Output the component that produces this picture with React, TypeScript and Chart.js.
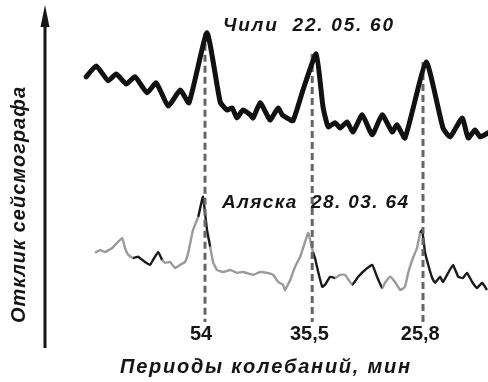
import { useEffect, useRef } from "react";
import { Chart, registerables } from "chart.js";

Chart.register(...registerables);

// Relative frequency (arbitrary units) and seismograph response (arbitrary units)
const chileFreq = [10.3, 12.8, 15.8, 17.8, 20.3, 22.5, 25.5, 27.8, 30.8, 33.8, 36, 40.5, 43.8, 45.5, 46.8, 48, 49.5, 51.3, 52, 53.8, 55.5, 56.3, 58.3, 59.3, 60.5, 62, 64.5, 67.8, 69.5, 70.8, 72.5, 73.8, 75.5, 77, 79.3, 81.8, 84.3, 86.8, 88, 90, 95.3, 99.5, 101.3, 104.3, 105.8, 107.5, 108.8, 110.8];
const chileResp = [65.8, 68.5, 64.8, 66.5, 64, 65.8, 61.8, 64.3, 58.5, 62.5, 59.3, 76.8, 59.5, 57.5, 58, 55.5, 57.5, 56.3, 55.5, 59.3, 56.3, 55, 58, 56.3, 55.5, 54.8, 62.5, 71.5, 58.3, 53.3, 54.3, 53, 54.5, 52, 56.3, 51.3, 56.3, 52, 53.8, 50.5, 69.5, 53, 50.8, 55.5, 50.5, 52.5, 50.8, 51.8];

const alaskaFreq = [12.5, 13.8, 15, 16.8, 18, 19.3, 20, 20.8, 22, 23.3, 25, 26.3, 27, 28.3, 29.3, 30, 31.3, 32.5, 33.8, 35, 35.8, 37, 38.3, 39.5, 40.5, 41.3, 42, 43, 44.5, 46.3, 48, 49.5, 52, 53.8, 55.5, 57, 58.3, 59.5, 60, 61.3, 62.5, 63.8, 65, 65.8, 67, 67.5, 68.3, 69.3, 70, 71.3, 72.5, 73.8, 75, 76.8, 78.3, 80, 81.8, 83, 84.3, 85, 86.3, 87.5, 88.8, 90, 90.8, 91.8, 93, 93.8, 94.3, 95, 95.8, 96.8, 97.5, 98.8, 99.5, 100.8, 102, 103.3, 104.5, 105.5, 106.8, 108, 109.3, 110.5];
const alaskaResp = [21.8, 22.5, 22, 23, 24.3, 25.5, 23, 21.3, 20.5, 20.8, 19.5, 18.8, 20, 22, 20, 19.3, 19.5, 18, 18.8, 19.5, 21.8, 27.5, 30.8, 35.8, 27.5, 23.3, 19.5, 17.5, 17, 17.5, 16.8, 17, 16.3, 17, 16.8, 16.3, 14.5, 13.8, 12.5, 15, 18.3, 20.8, 24.5, 26.8, 22, 20.5, 17, 13.3, 13.8, 15.8, 15.5, 16.3, 16.3, 13.8, 15.8, 17.5, 18.8, 15.8, 13, 14.3, 15.8, 14.5, 12.5, 13.3, 16.8, 20, 23, 26.8, 27.5, 22, 18.8, 15.5, 14.3, 15.8, 14.5, 16.8, 18.8, 15.8, 15.5, 16.8, 14.5, 13, 14.3, 12.5];

const peakFreq = [40, 66.8, 94.5];
const peakTop = [76.8, 71.5, 69.5];
const dashBottom = 4.5;
const periodLabels = ["54", "35,5", "25,8"];

const chileLabel = "Чили  22. 05. 60";
const alaskaLabel = "Аляска  28. 03. 64";
const yTitle = "Отклик сейсмографа";
const xTitle = "Периоды колебаний, мин";

const alaskaDarkRanges = [[22, 29], [38.5, 41.5], [66.5, 72], [76, 84.5], [93.5, 111]];

const FONT = "'Liberation Sans', Arial, sans-serif";

function drawSpaced(ctx: CanvasRenderingContext2D, text: string, cx: number, cy: number, width: number) {
  const chars = Array.from(text);
  const widths = chars.map((c) => ctx.measureText(c).width);
  const total = widths.reduce((a, b) => a + b, 0);
  const gap = chars.length > 1 ? (width - total) / (chars.length - 1) : 0;
  let x = cx - width / 2;
  ctx.textAlign = "left";
  chars.forEach((c, i) => {
    ctx.fillText(c, x, cy);
    x += widths[i] + gap;
  });
}

const overlay = {
  id: "overlay",
  afterDatasetsDraw(chart: any) {
    const ctx: CanvasRenderingContext2D = chart.ctx;
    const { left, bottom } = chart.chartArea;
    const xs = chart.scales.x;
    ctx.save();
    // vertical axis with arrow
    ctx.strokeStyle = "#151515";
    ctx.fillStyle = "#151515";
    ctx.lineWidth = 3;
    ctx.beginPath();
    ctx.moveTo(left, bottom + 8);
    ctx.lineTo(left, 22);
    ctx.stroke();
    ctx.beginPath();
    ctx.moveTo(left, 5);
    ctx.lineTo(left - 4.5, 27);
    ctx.lineTo(left + 4.5, 27);
    ctx.closePath();
    ctx.fill();

    // y title
    ctx.font = `italic bold 20px ${FONT}`;
    ctx.textBaseline = "middle";
    ctx.save();
    ctx.translate(19, 205);
    ctx.rotate(-Math.PI / 2);
    drawSpaced(ctx, yTitle, 0, 0, 236);
    ctx.restore();

    // x title
    drawSpaced(ctx, xTitle, 265, 367, 290);

    // period labels
    ctx.font = `bold 20px ${FONT}`;
    periodLabels.forEach((lab, i) => {
      const px = xs.getPixelForValue(peakFreq[i]);
      const k = lab.indexOf(",");
      if (k >= 0) {
        ctx.textAlign = "right";
        ctx.fillText(lab.slice(0, k), px, 334);
        ctx.textAlign = "left";
        ctx.fillText(lab.slice(k), px, 334);
      } else {
        ctx.textAlign = "center";
        ctx.fillText(lab, px - 4, 334);
      }
    });

    // event labels
    ctx.font = `italic bold 19px ${FONT}`;
    drawSpaced(ctx, chileLabel, 308, 26, 170);
    drawSpaced(ctx, alaskaLabel, 315, 203, 186);
    ctx.restore();
  },
};

export default function App() {
  const ref = useRef<HTMLCanvasElement | null>(null);
  useEffect(() => {
    if (!ref.current) return;
    const inDark = (x: number) => alaskaDarkRanges.some(([a, b]) => x >= a && x <= b);
    const dashSets = peakFreq.map((f, i) => ({
      data: [
        { x: f, y: peakTop[i] },
        { x: f, y: dashBottom },
      ],
      borderColor: "#666",
      borderWidth: 3,
      borderDash: [7, 4],
      pointRadius: 0,
      order: 1,
      clip: false,
    }));
    const chart = new Chart(ref.current, {
      type: "line",
      data: {
        datasets: [
          {
            data: chileFreq.map((x, i) => ({ x, y: chileResp[i] })),
            borderColor: "#111",
            borderWidth: 5,
            tension: 0.15,
            pointRadius: 0,
            borderJoinStyle: "round",
            borderCapStyle: "round",
            order: 0,
            clip: false,
          },
          ...dashSets,
          {
            data: alaskaFreq.map((x, i) => ({ x, y: alaskaResp[i] })),
            borderColor: "#222",
            borderWidth: 2.4,
            tension: 0.1,
            pointRadius: 0,
            order: 2,
            clip: false,
            segment: {
              borderColor: (c: any) => (inDark((c.p0.parsed.x + c.p1.parsed.x) / 2) ? "#1a1a1a" : "#9a9a9a"),
            },
          },
        ] as any,
      },
      options: {
        animation: false,
        responsive: true,
        maintainAspectRatio: false,
        layout: { padding: { left: 45, right: 0, top: 0, bottom: 42 } },
        plugins: { legend: { display: false }, tooltip: { enabled: false } },
        scales: {
          x: { type: "linear", min: 0, max: 110.75, display: false },
          y: { type: "linear", min: 0, max: 85, display: false },
        },
      },
      plugins: [overlay],
    });
    return () => chart.destroy();
  }, []);
  return (
    <div style={{ position: "fixed", left: 0, top: 0, width: 488, height: 382, background: "#fff" }}>
      <canvas ref={ref} />
    </div>
  );
}
